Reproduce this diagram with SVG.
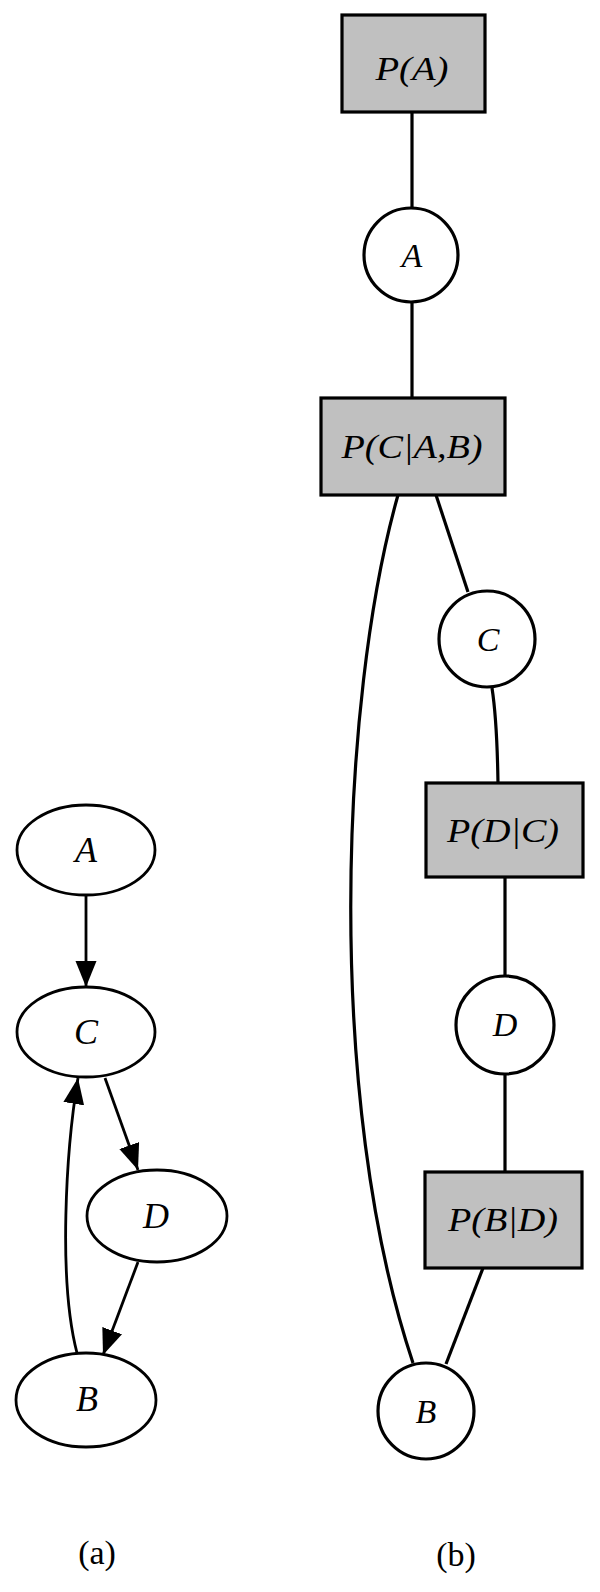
<svg xmlns="http://www.w3.org/2000/svg" width="600" height="1592" viewBox="0 0 600 1592">
<style>
.bg{fill:#ffffff}
.fac{fill:#c0c0c0;stroke:#000;stroke-width:3.2}
.var{fill:#ffffff;stroke:#000;stroke-width:3.2}
.ell{fill:#ffffff;stroke:#000;stroke-width:2.8}
.edge{fill:none;stroke:#000;stroke-width:3.2}
.dedge{fill:none;stroke:#000;stroke-width:2.8}
.lbl{font-family:"Liberation Serif","Times New Roman",serif;font-style:italic;font-size:34px;text-anchor:middle;fill:#000}
.albl{font-family:"Liberation Serif","Times New Roman",serif;font-style:italic;font-size:36px;text-anchor:middle;fill:#000}
.cap{font-family:"Liberation Serif","Times New Roman",serif;font-size:34px;text-anchor:middle;fill:#000}
</style>
<defs>
<marker id="arr" markerUnits="userSpaceOnUse" markerWidth="27" markerHeight="22" refX="26" refY="10.5" orient="auto">
<path d="M0,0 L26,10.5 L0,21 z" fill="#000"/>
</marker>
</defs>
<rect class="bg" x="0" y="0" width="600" height="1592"/>

<g id="connectors">
<line class="dedge" x1="86" y1="895" x2="86" y2="987" marker-end="url(#arr)"/>
<line class="dedge" x1="105" y1="1078" x2="138" y2="1170" marker-end="url(#arr)"/>
<line class="dedge" x1="138" y1="1262" x2="103" y2="1355" marker-end="url(#arr)"/>
<path class="dedge" d="M77,1353 C58,1280 66,1150 78,1078" marker-end="url(#arr)"/>

<line class="edge" x1="412" y1="112" x2="412" y2="208"/>
<line class="edge" x1="412" y1="302" x2="412" y2="398"/>
<line class="edge" x1="436" y1="495" x2="468" y2="592"/>
<path class="edge" d="M492,688 Q497,720 498,783"/>
<line class="edge" x1="505" y1="877" x2="505" y2="976"/>
<line class="edge" x1="505" y1="1074" x2="505" y2="1172"/>
<line class="edge" x1="483" y1="1268" x2="446" y2="1364"/>
<path class="edge" d="M398,495 C340,700 325,1100 413,1363"/>
</g>

<g id="a_A"><ellipse class="ell" cx="86" cy="850" rx="69" ry="45"/><text class="albl" x="86" y="862">A</text></g>
<g id="a_C"><ellipse class="ell" cx="86" cy="1032" rx="69" ry="45"/><text class="albl" x="86" y="1044">C</text></g>
<g id="a_D"><ellipse class="ell" cx="157" cy="1216" rx="70" ry="46"/><text class="albl" x="156" y="1228">D</text></g>
<g id="a_B"><ellipse class="ell" cx="86" cy="1400" rx="70" ry="47"/><text class="albl" x="87" y="1411">B</text></g>

<g id="f_PA"><rect class="fac" x="342" y="15" width="143" height="97"/><text class="lbl" x="412" y="80" textLength="73" lengthAdjust="spacingAndGlyphs">P(A)</text></g>
<g id="v_A"><circle class="var" cx="411" cy="255" r="47"/><text class="lbl" x="412" y="267">A</text></g>
<g id="f_PCAB"><rect class="fac" x="321" y="398" width="184" height="97"/><text class="lbl" x="412" y="458" textLength="141" lengthAdjust="spacingAndGlyphs">P(C|A,B)</text></g>
<g id="v_C"><circle class="var" cx="487" cy="639" r="48"/><text class="lbl" x="488" y="651">C</text></g>
<g id="f_PDC"><rect class="fac" x="426" y="783" width="157" height="94"/><text class="lbl" x="503" y="842" textLength="112" lengthAdjust="spacingAndGlyphs">P(D|C)</text></g>
<g id="v_D"><circle class="var" cx="505" cy="1025" r="49"/><text class="lbl" x="505" y="1036">D</text></g>
<g id="f_PBD"><rect class="fac" x="425" y="1172" width="157" height="96"/><text class="lbl" x="503" y="1231" textLength="110" lengthAdjust="spacingAndGlyphs">P(B|D)</text></g>
<g id="v_B"><circle class="var" cx="426" cy="1411" r="48"/><text class="lbl" x="426" y="1423">B</text></g>

<text class="cap" x="97" y="1564">(a)</text>
<text class="cap" x="456" y="1566">(b)</text>
</svg>
